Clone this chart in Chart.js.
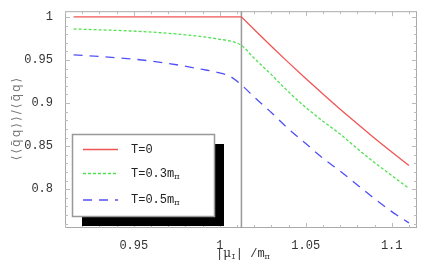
<!DOCTYPE html>
<html>
<head>
<meta charset="utf-8">
<script src="https://cdn.jsdelivr.net/npm/chart.js@4.4.0/dist/chart.umd.min.js"></script>
<style>
  body { margin: 0; background: #fff; }
  #wrap { width: 429px; height: 267px; }
</style>
</head>
<body>
<div id="wrap"><canvas id="cond" width="429" height="267"></canvas></div>
<script>
// |mu_I| / m_pi sample points
const muValues = [0.915, 0.93, 0.95, 0.97, 0.99, 1.0, 1.006, 1.0126, 1.02, 1.03, 1.04, 1.05, 1.06, 1.07, 1.08, 1.09, 1.1, 1.11];
const ratioT0  = [1, 1, 1, 1, 1, 1, 1, 1, 0.9853, 0.9659, 0.9469, 0.9284, 0.9104, 0.8929, 0.8759, 0.8593, 0.8431, 0.8275];
const ratioT03 = [0.986, 0.985, 0.9835, 0.981, 0.977, 0.974, 0.972, 0.967, 0.952, 0.933, 0.913, 0.895, 0.879, 0.864, 0.847, 0.831, 0.816, 0.801];
const ratioT05 = [0.956, 0.954, 0.951, 0.946, 0.939, 0.935, 0.931, 0.921, 0.907, 0.889, 0.870, 0.853, 0.836, 0.821, 0.805, 0.789, 0.774, 0.761];
const criticalMu = 1.0126;
const xTicks = [0.95, 1, 1.05, 1.1];
const yTicks = [0.8, 0.85, 0.9, 0.95, 1];
const legendLabels = [["T=0", ""], ["T=0.3m", "\u03c0"], ["T=0.5m", "\u03c0"]];

const xMin = 0.91, xMax = 1.1147, yMin = 0.755, yMax = 1.0066;
const mono = "'Liberation Mono', 'Courier New', monospace";
const colors = ["rgb(240,85,85)", "rgb(80,225,80)", "rgb(80,80,245)"];
const dashes = [[], [3, 2], [9, 7]];
const interp = ["default", "monotone", "monotone"];

function pts(ys) { return muValues.map((x, i) => ({ x: x, y: ys[i] })); }

// frame, inward ticks, axis titles and the shadowed legend
const decor = {
  id: "decor",
  beforeDatasetsDraw(chart) {
    const { ctx, chartArea: a, scales } = chart;
    const xs = scales.x, ys = scales.y;
    ctx.save();
    ctx.strokeStyle = "#aaa";
    ctx.lineWidth = 1;
    ctx.strokeRect(a.left + 0.5, a.top + 0.5, a.right - a.left - 1, a.bottom - a.top - 1);
    ctx.strokeStyle = "#bbb";
    ctx.beginPath();
    for (let v = 0.91; v <= xMax + 1e-9; v += 0.01) {
      const major = xTicks.some(t => Math.abs(t - v) < 1e-6);
      const len = major ? 5 : 3;
      const px = Math.round(xs.getPixelForValue(v)) + 0.5;
      ctx.moveTo(px, a.bottom); ctx.lineTo(px, a.bottom - len);
      ctx.moveTo(px, a.top); ctx.lineTo(px, a.top + len);
    }
    for (let v = 0.76; v <= yMax + 1e-9; v += 0.01) {
      const major = yTicks.some(t => Math.abs(t - v) < 1e-6);
      const len = major ? 5 : 3;
      const py = Math.round(ys.getPixelForValue(v)) + 0.5;
      ctx.moveTo(a.left, py); ctx.lineTo(a.left + len, py);
      ctx.moveTo(a.right, py); ctx.lineTo(a.right - len, py);
    }
    ctx.stroke();
    ctx.restore();
  },
  afterDraw(chart) {
    const { ctx, chartArea: a } = chart;
    ctx.save();
    // x title |mu_I| /m_pi
    ctx.fillStyle = "#333";
    ctx.textBaseline = "alphabetic";
    let x = 216, y = 257;
    const part = (t, f, dy) => { ctx.font = f; ctx.fillText(t, x, y + dy); x += ctx.measureText(t).width; };
    part("|", "12px " + mono, 0);
    part("\u03bc", "12px 'DejaVu Serif'", 0);
    part("I", "8px " + mono, 2);
    part("| /m", "12px " + mono, 0);
    part("\u03c0", "8px 'DejaVu Serif'", 2);

    // y title
    ctx.save();
    ctx.translate(17, 118);
    ctx.rotate(-Math.PI / 2);
    ctx.fillStyle = "#777";
    ctx.font = "12px 'DejaVu Sans'";
    ctx.letterSpacing = "2px";
    ctx.textAlign = "center";
    ctx.textBaseline = "middle";
    ctx.fillText("\u27e8\u27e8q\u0304q\u27e9\u27e9/\u27e8q\u0304q\u27e9", 0, 0);
    ctx.restore();

    // legend with shadow
    const bx = 72, by = 134, bw = 142, bh = 82;
    ctx.fillStyle = "#000";
    ctx.fillRect(bx + 10, by + 10, bw, bh);
    ctx.fillStyle = "#fff";
    ctx.fillRect(bx, by, bw, bh);
    ctx.strokeStyle = "#999";
    ctx.lineWidth = 1.5;
    ctx.strokeRect(bx + 0.5, by + 0.5, bw, bh);
    const rows = [149.5, 173.5, 200];
    legendLabels.forEach((lab, i) => {
      ctx.strokeStyle = colors[i];
      ctx.lineWidth = 1.3;
      ctx.setLineDash(dashes[i]);
      ctx.beginPath();
      ctx.moveTo(83, rows[i]); ctx.lineTo(118, rows[i]);
      ctx.stroke();
      ctx.setLineDash([]);
      ctx.fillStyle = "#222";
      ctx.textBaseline = "middle";
      ctx.font = "12px " + mono;
      ctx.fillText(lab[0], 131, rows[i]);
      const w = ctx.measureText(lab[0]).width;
      ctx.font = "8px 'DejaVu Serif'";
      ctx.fillText(lab[1], 131 + w, rows[i] + 3);
    });
    ctx.restore();
  }
};

const series = [ratioT0, ratioT03, ratioT05];

new Chart(document.getElementById("cond"), {
  type: "line",
  data: {
    datasets: series.map((s, i) => ({
      label: legendLabels[i].join(""), data: pts(s), borderColor: colors[i],
      borderWidth: 1.3, borderDash: dashes[i], pointRadius: 0,
      cubicInterpolationMode: interp[i], tension: 0
    })).concat([
      { label: "crit", data: [{ x: criticalMu, y: yMin }, { x: criticalMu, y: yMax }], borderColor: "#999", borderWidth: 1.5, pointRadius: 0 }
    ])
  },
  options: {
    responsive: false,
    animation: false,
    events: [],
    layout: { padding: { left: 0, top: 10, right: 12, bottom: 0 } },
    plugins: { legend: { display: false }, tooltip: { enabled: false } },
    scales: {
      x: {
        type: "linear", min: xMin, max: xMax,
        afterBuildTicks: s => { s.ticks = xTicks.map(v => ({ value: v })); },
        afterFit: s => { s.height = 39; },
        grid: { display: false },
        border: { display: false },
        ticks: { padding: 3, color: "#333", font: { family: mono, size: 12 }, maxRotation: 0,
          callback: v => String(v) }
      },
      y: {
        type: "linear", min: yMin, max: yMax,
        afterBuildTicks: s => { s.ticks = yTicks.map(v => ({ value: v })); },
        afterFit: s => { s.width = 65; },
        grid: { display: false },
        border: { display: false },
        ticks: { padding: 4, color: "#333", font: { family: mono, size: 12 },
          callback: v => String(v) }
      }
    }
  },
  plugins: [decor]
});
</script>
</body>
</html>
